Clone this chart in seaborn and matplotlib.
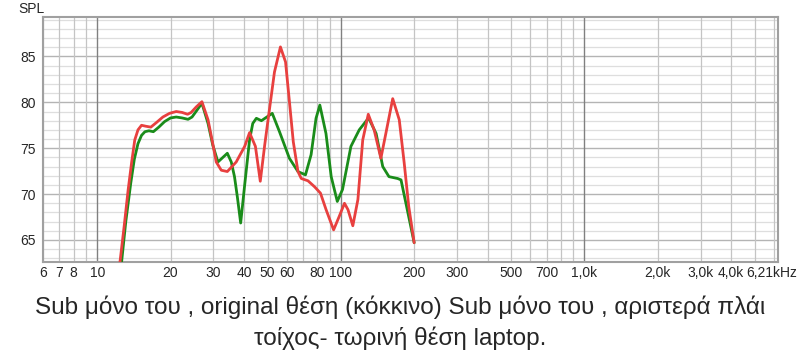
import numpy as np
import pandas as pd
import matplotlib
matplotlib.use("Agg")
import matplotlib.pyplot as plt
import seaborn as sns
from matplotlib.ticker import FixedLocator, NullFormatter, NullLocator

# ---- data ----
red_freq = [12.3, 12.9, 13.4, 13.85, 14.26, 14.7, 15.2, 15.8, 16.6, 17.5, 18.6, 19.8, 21.1,
            22.3, 23.5, 24.3, 25.5, 26.9, 28.5, 29.8, 30.8, 32.3, 34.2, 37.2, 40.3, 42.2,
            44.6, 46.7, 48.7, 51.0, 53.4, 56.5, 59.3, 61.5, 63.8, 66.7, 68.8, 73.3, 78.0,
            82.5, 87.0, 93.4, 98.6, 103.5, 107.0, 112.0, 117.5, 123.0, 129.6, 137.0, 146.0,
            153.0, 163.3, 173.7, 182.0, 190.0, 200.0]
red_spl = [61.8, 66.5, 70.5, 73.5, 75.9, 77.0, 77.5, 77.4, 77.3, 77.8, 78.4, 78.8, 79.0,
           78.9, 78.7, 78.9, 79.5, 80.07, 78.1, 75.5, 73.5, 72.6, 72.46, 73.5, 75.2, 76.7,
           75.2, 71.4, 75.35, 79.35, 83.3, 86.04, 84.4, 80.1, 75.7, 72.45, 71.7, 71.45, 70.8,
           70.1, 68.3, 66.1, 67.6, 69.0, 68.3, 66.55, 69.4, 75.9, 78.7, 77.0, 73.9,
           76.6, 80.4, 78.1, 73.4, 68.65, 64.7]

green_freq = [12.5, 13.1, 13.73, 14.2, 14.7, 15.2, 15.7, 16.3, 17.0, 17.9, 18.9, 20.0, 21.1,
              22.3, 23.6, 24.5, 25.6, 26.9, 28.5, 29.8, 31.3, 34.2, 35.5, 36.6, 37.6, 38.8,
              40.3, 42.2, 43.5, 45.0, 47.2, 52.3, 56.0, 61.5, 66.7, 71.6, 75.5, 79.1, 82.0,
              86.9, 91.3, 96.7, 101.6, 110.0, 119.0, 130.0, 139.6, 148.6, 157.6, 171.0,
              176.6, 185.0, 200.0]
green_spl = [61.8, 67.0, 71.2, 73.8, 75.5, 76.4, 76.8, 76.9, 76.8, 77.3, 77.9, 78.3, 78.4,
             78.3, 78.15, 78.4, 79.1, 79.9, 77.7, 75.35, 73.5, 74.45, 73.5, 71.9, 69.7, 66.85,
             71.0, 75.9, 77.7, 78.26, 78.0, 78.8, 76.8, 73.9, 72.45, 72.1, 74.3, 78.26, 79.7,
             76.6, 71.9, 69.2, 70.5, 75.2, 77.0, 78.3, 76.6, 73.0, 71.9, 71.7,
             71.55, 69.0, 64.7]

xtick_vals = [6, 7, 8, 10, 20, 30, 40, 50, 60, 80, 100, 200, 300, 500, 700, 1000, 2000, 3000, 4000, 6210]
xtick_labels = ["6", "7", "8", "10", "20", "30", "40", "50", "60", "80", "100", "200", "300",
                "500", "700", "1,0k", "2,0k", "3,0k", "4,0k", "6,21kHz"]
ytick_vals = [65, 70, 75, 80, 85]
caption = "Sub μόνο του , original θέση (κόκκινο) Sub μόνο του , αριστερά πλάι\nτοίχος- τωρινή θέση laptop."

df = pd.concat([
    pd.DataFrame({"f": green_freq, "spl": green_spl, "s": "green"}),
    pd.DataFrame({"f": red_freq, "spl": red_spl, "s": "red"}),
])

sns.set_style("white")
plt.rcParams['font.family'] = ['Liberation Sans', 'DejaVu Sans']

fig = plt.figure(figsize=(8, 3.61), dpi=100)
ax = fig.add_axes([43/800, 1-262/361, (778-43)/800, (262-17)/361])

sns.lineplot(data=df, x="f", y="spl", hue="s", palette={"green": "#1a8c1a", "red": "#e8403f"},
             sort=False, estimator=None, lw=2.0, legend=False, ax=ax, zorder=3)

ax.set_xscale("log")
ax.set_xlim(5.99, 6230)
ax.set_ylim(62.6, 89.3)

# grid
minor_x = []
for dec in [1, 10, 100, 1000]:
    for m in range(1, 10):
        v = dec * m
        if 6 <= v <= 6300 and v not in (10, 100, 1000):
            minor_x.append(v)
for v in minor_x:
    ax.axvline(v, color="#c4c4c4", lw=0.9, zorder=1)
for v in [10, 100, 1000]:
    ax.axvline(v, color="#808080", lw=1.0, zorder=1)
for v in range(63, 90):
    if v % 5:
        ax.axhline(v, color="#dedede", lw=0.9, zorder=0.5)
for v in ytick_vals:
    ax.axhline(v, color="#b4b4b4", lw=1.0, zorder=0.8)

# x ticks (last label drawn separately so it stays inside the figure)
ax.xaxis.set_major_locator(FixedLocator(xtick_vals))
ax.set_xticklabels(xtick_labels[:-1] + [""], fontsize=10)
ax.xaxis.set_minor_locator(NullLocator())
ax.xaxis.set_minor_formatter(NullFormatter())
ax.annotate(xtick_labels[-1], xy=(xtick_vals[-1], 0), xycoords=("data", "axes fraction"),
            xytext=(-4, -3), textcoords="offset points", ha="center", va="top", fontsize=10)
ax.set_yticks(ytick_vals)
ax.set_yticklabels([str(v) for v in ytick_vals], fontsize=10)
ax.tick_params(axis="x", length=0, pad=3)
ax.tick_params(axis="y", length=0, pad=5)
ax.set_xlabel("")
ax.set_ylabel("")
for s in ax.spines.values():
    s.set_color("#a0a0a0")
    s.set_linewidth(1.5)

fig.text(18/800, 1-9/361, "SPL", fontsize=10, va="center", ha="left")
fig.text(0.5, 1-323/361, caption, fontsize=17.5, ha="center", va="center", linespacing=1.4)

fig.savefig("out.png", dpi=100)
